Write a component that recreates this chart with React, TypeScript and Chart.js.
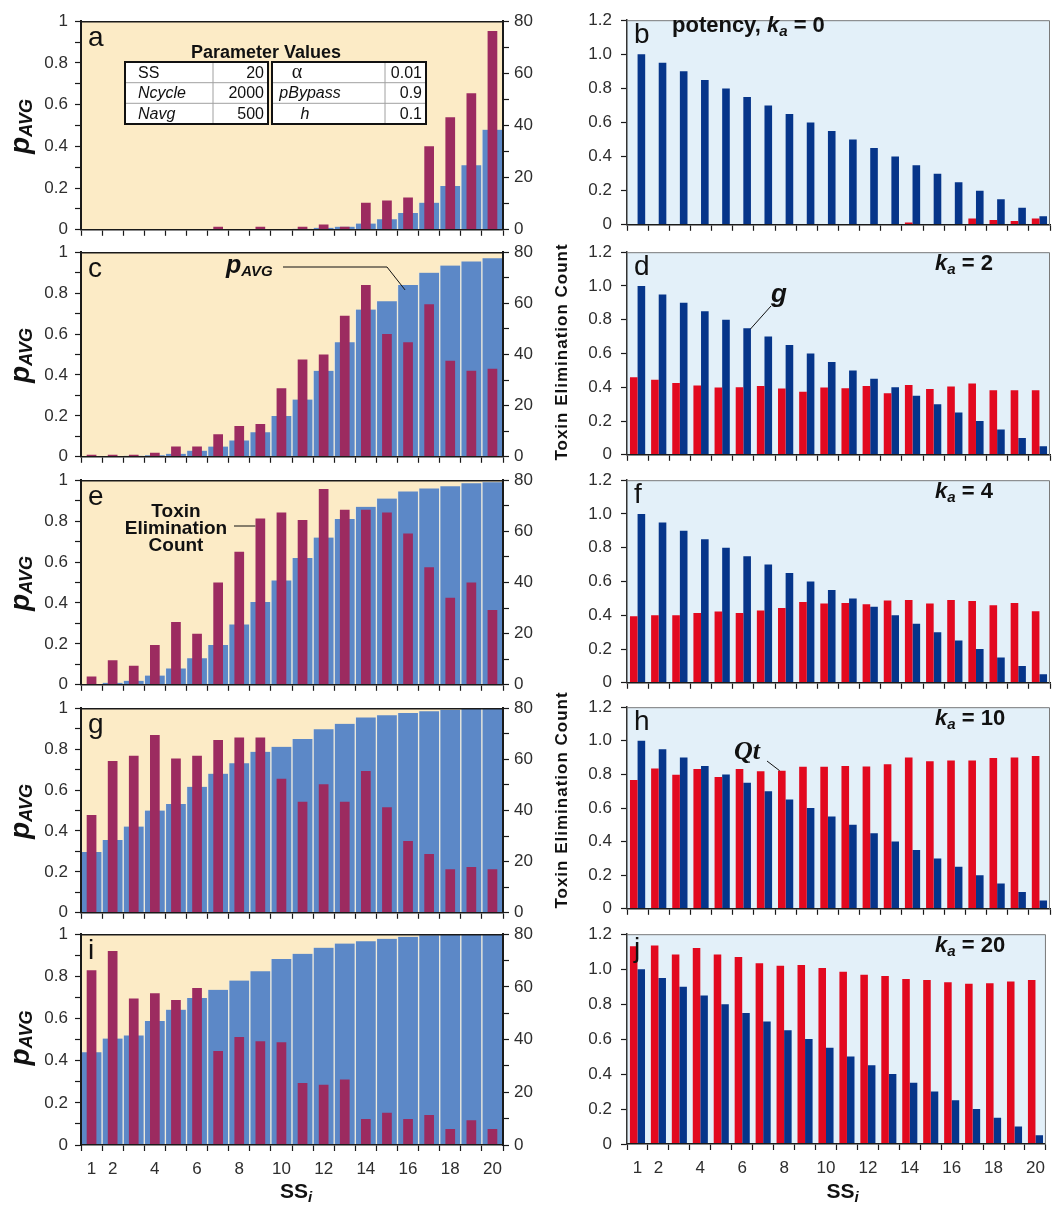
import { useEffect, useRef } from 'react';
import { Chart, registerables } from 'chart.js';

Chart.register(...registerables);

// ---------------- data ----------------
const categories = ['1', '2', '3', '4', '5', '6', '7', '8', '9', '10', '11', '12', '13', '14', '15', '16', '17', '18', '19', '20'];
const xTickLabels = ['1', '2', '', '4', '', '6', '', '8', '', '10', '', '12', '', '14', '', '16', '', '18', '', '20'];
const leftTickLabels = ['0', '0.2', '0.4', '0.6', '0.8', '1'];
const countTickLabels = ['0', '20', '40', '60', '80'];
const rightTickLabels = ['0', '0.2', '0.4', '0.6', '0.8', '1.0', '1.2'];

// left column: pAVG (left axis) and Toxin Elimination Count (right axis)
const pAvgA = [0, 0, 0, 0, 0, 0, 0, 0, 0, 0.002, 0.005, 0.01, 0.015, 0.03, 0.05, 0.08, 0.13, 0.21, 0.31, 0.48];
const countA = [0, 0, 0, 0, 0, 0, 1.2, 0, 1.2, 0, 1.2, 2, 1.2, 10.4, 11.2, 12.4, 32, 43.2, 52.4, 76.2];
const pAvgC = [0.002, 0.003, 0.005, 0.008, 0.015, 0.03, 0.05, 0.08, 0.12, 0.2, 0.28, 0.42, 0.56, 0.72, 0.76, 0.84, 0.9, 0.935, 0.955, 0.97];
const countC = [0.8, 0.8, 0.8, 1.6, 4, 4, 8.8, 12, 12.8, 26.8, 38, 40, 55.2, 67.2, 48, 44.8, 59.6, 37.6, 33.6, 34.4];
const pAvgE = [0.003, 0.01, 0.02, 0.045, 0.08, 0.13, 0.195, 0.295, 0.405, 0.51, 0.62, 0.72, 0.81, 0.87, 0.91, 0.945, 0.96, 0.97, 0.985, 0.99];
const countE = [3.2, 9.6, 7.4, 15.6, 24.6, 20, 40, 52, 65, 67.4, 64.4, 76.6, 68.4, 68.4, 67.4, 59.2, 46, 34, 40, 29.2];
const pAvgG = [0.297, 0.356, 0.422, 0.5, 0.532, 0.616, 0.68, 0.731, 0.787, 0.811, 0.85, 0.897, 0.924, 0.955, 0.966, 0.977, 0.985, 0.992, 0.996, 0.998];
const countG = [38.2, 59.4, 61.4, 69.5, 60.3, 61.4, 67.6, 68.5, 68.5, 52.4, 43.4, 50.3, 43.4, 55.4, 41.3, 28.1, 23, 17, 17.9, 17];
const pAvgI = [0.44, 0.505, 0.52, 0.588, 0.642, 0.697, 0.736, 0.78, 0.824, 0.882, 0.907, 0.936, 0.956, 0.967, 0.978, 0.988, 0.995, 0.998, 0.999, 1.0];
const countI = [66.3, 73.6, 55.6, 57.6, 55, 59.6, 35.7, 41, 39.4, 39, 23.5, 22.9, 24.9, 9.9, 12.2, 9.9, 11.4, 6.1, 9.4, 6.1];

// right column: Qt (red) and potency g (navy)
const gPotency = [1.0, 0.95, 0.9, 0.85, 0.8, 0.75, 0.7, 0.65, 0.6, 0.55, 0.5, 0.45, 0.4, 0.35, 0.3, 0.25, 0.2, 0.15, 0.1, 0.05];
const qtB = [0, 0, 0, 0, 0, 0, 0, 0, 0, 0, 0, 0, 0, 0.013, 0, 0, 0.037, 0.028, 0.022, 0.037];
const qtD = [0.46, 0.444, 0.426, 0.41, 0.398, 0.4, 0.407, 0.393, 0.374, 0.398, 0.394, 0.407, 0.365, 0.413, 0.389, 0.404, 0.422, 0.383, 0.383, 0.383];
const qtF = [0.394, 0.4, 0.4, 0.413, 0.422, 0.413, 0.428, 0.443, 0.478, 0.469, 0.473, 0.465, 0.487, 0.49, 0.47, 0.49, 0.484, 0.46, 0.473, 0.424];
const qtH = [0.767, 0.835, 0.798, 0.832, 0.785, 0.832, 0.819, 0.822, 0.845, 0.845, 0.85, 0.847, 0.86, 0.9, 0.878, 0.882, 0.882, 0.897, 0.9, 0.91];
const qtJ = [1.131, 1.136, 1.084, 1.121, 1.084, 1.069, 1.034, 1.019, 1.024, 1.006, 0.985, 0.968, 0.961, 0.944, 0.938, 0.925, 0.916, 0.92, 0.929, 0.938];
const kaValues = [0, 2, 4, 10, 20];

// parameter table (panel a)
const paramNamesLeft = ['SS', 'Ncycle', 'Navg'];
const paramValuesLeft = ['20', '2000', '500'];
const paramNamesRight = ['α', 'pBypass', 'h'];
const paramValuesRight = ['0.01', '0.9', '0.1'];

// ---------------- styling / layout ----------------
const FONT = '"Liberation Sans", Arial, Helvetica, sans-serif';
const SERIF = '"Liberation Serif", "Times New Roman", serif';
const BLUE_P = '#5C88C7';
const MAROON = '#9C2B60';
const RED = '#E2091F';
const NAVY = '#06358A';
const YELLOW_BG = '#FCEBC6';
const BLUE_BG = '#E3F0F9';
const GAP = '#EEEBDD';
const AXIS = '#1a1a1a';
const TEXT = '#111';
const TICK_TEXT = '#2e2e2e';
const TICK_SIZE = 17;

const LEFT_TOPS = [18, 249, 477, 705, 931];
const LEFT_BOTTOMS = [235, 462, 690, 918, 1145];
const RIGHT_TOPS = [15, 247, 475, 702, 929];
const RIGHT_BOTTOMS = [232, 462, 690, 916, 1144];
const PAD_TOP = 14;

type Side = 'left' | 'right';
interface Spec {
  side: Side;
  row: number;
  letter: string;
  a?: number[];
  b?: number[];
}

const specs: Spec[] = [
  { side: 'left', row: 0, letter: 'a', a: pAvgA, b: countA },
  { side: 'left', row: 1, letter: 'c', a: pAvgC, b: countC },
  { side: 'left', row: 2, letter: 'e', a: pAvgE, b: countE },
  { side: 'left', row: 3, letter: 'g', a: pAvgG, b: countG },
  { side: 'left', row: 4, letter: 'i', a: pAvgI, b: countI },
  { side: 'right', row: 0, letter: 'b', a: qtB, b: gPotency },
  { side: 'right', row: 1, letter: 'd', a: qtD, b: gPotency },
  { side: 'right', row: 2, letter: 'f', a: qtF, b: gPotency },
  { side: 'right', row: 3, letter: 'h', a: qtH, b: gPotency },
  { side: 'right', row: 4, letter: 'j', a: qtJ, b: gPotency },
];

function geom(side: Side, row: number) {
  const top = side === 'left' ? LEFT_TOPS[row] : RIGHT_TOPS[row];
  const bottom = side === 'left' ? LEFT_BOTTOMS[row] : RIGHT_BOTTOMS[row];
  const isBottom = row === 4;
  const bottomExtra = isBottom ? 1205 - bottom : 12;
  const cx = side === 'left' ? 0 : 578;
  const cw = side === 'left' ? 578 : 475;
  const cy = top - PAD_TOP;
  const ch = bottom - top + PAD_TOP + bottomExtra;
  const plotL = side === 'left' ? 81 : 627;
  const plotR = side === 'left' ? 503 : 1050;
  return { top, bottom, isBottom, bottomExtra, cx, cw, cy, ch, plotL, plotR };
}
type Geom = ReturnType<typeof geom>;

// ---------------- text helpers ----------------
type Seg = { t: string; f: string; dy?: number };
function drawSegs(ctx: CanvasRenderingContext2D, segs: Seg[], x: number, y: number, align: 'left' | 'center') {
  const widths = segs.map((s) => {
    ctx.font = s.f;
    return ctx.measureText(s.t).width;
  });
  const total = widths.reduce((p, c) => p + c, 0);
  let px = align === 'center' ? x - total / 2 : x;
  ctx.textAlign = 'left';
  ctx.textBaseline = 'alphabetic';
  segs.forEach((s, i) => {
    ctx.font = s.f;
    ctx.fillText(s.t, px, y + (s.dy || 0));
    px += widths[i];
  });
}

function line(ctx: CanvasRenderingContext2D, pts: number[][], w = 1, color = TEXT) {
  ctx.save();
  ctx.strokeStyle = color;
  ctx.lineWidth = w;
  ctx.beginPath();
  pts.forEach((p, i) => (i === 0 ? ctx.moveTo(p[0], p[1]) : ctx.lineTo(p[0], p[1])));
  ctx.stroke();
  ctx.restore();
}

function kaSegs(rest: string, size = 22): Seg[] {
  return [
    { t: 'k', f: `italic bold ${size}px ${FONT}` },
    { t: 'a', f: `italic bold ${Math.round(size * 0.7)}px ${FONT}`, dy: 4 },
    { t: rest, f: `bold ${size}px ${FONT}` },
  ];
}

function drawTable(ctx: CanvasRenderingContext2D) {
  ctx.fillStyle = TEXT;
  ctx.font = `bold 18px ${FONT}`;
  ctx.textAlign = 'center';
  ctx.textBaseline = 'alphabetic';
  ctx.fillText('Parameter Values', 266, 58);
  const rowsY = [62, 82.7, 103.3, 124];
  const t1 = { x: 125, w: 143, div: 213 };
  const t2 = { x: 272, w: 154, div: 385 };
  [t1, t2].forEach((t) => {
    ctx.fillStyle = '#ffffff';
    ctx.fillRect(t.x, rowsY[0], t.w, rowsY[3] - rowsY[0]);
    for (let r = 1; r < 3; r++) line(ctx, [[t.x, rowsY[r]], [t.x + t.w, rowsY[r]]], 1, '#a0a0a0');
    line(ctx, [[t.div, rowsY[0]], [t.div, rowsY[3]]], 1, '#a0a0a0');
    ctx.save();
    ctx.strokeStyle = '#111';
    ctx.lineWidth = 2;
    ctx.strokeRect(t.x, rowsY[0], t.w, rowsY[3] - rowsY[0]);
    ctx.restore();
  });
  ctx.fillStyle = TEXT;
  for (let r = 0; r < 3; r++) {
    const base = rowsY[r] + 15.5;
    ctx.textAlign = 'left';
    ctx.font = `${r === 0 ? '' : 'italic '}16px ${FONT}`;
    ctx.fillText(paramNamesLeft[r], 138, base);
    ctx.textAlign = 'right';
    ctx.font = `16px ${FONT}`;
    ctx.fillText(paramValuesLeft[r], 264, base);
    ctx.fillText(paramValuesRight[r], 422, base);
    ctx.textAlign = 'center';
    if (r === 0) {
      ctx.font = `20px ${SERIF}`;
      ctx.fillText(paramNamesRight[r], 297, base);
    } else {
      ctx.font = `italic 16px ${FONT}`;
      ctx.fillText(paramNamesRight[r], r === 1 ? 310 : 305, base);
    }
  }
}

function rotatedToxinTitle(ctx: CanvasRenderingContext2D, cy: number) {
  ctx.save();
  ctx.translate(560, cy);
  ctx.rotate(-Math.PI / 2);
  ctx.fillStyle = TEXT;
  ctx.font = `bold 17px ${FONT}`;
  (ctx as any).letterSpacing = '1px';
  ctx.textAlign = 'center';
  ctx.textBaseline = 'alphabetic';
  ctx.fillText('Toxin Elimination Count', 0, 7);
  ctx.restore();
}

function panelPlugin(spec: Spec, g: Geom) {
  return {
    id: 'deco_' + spec.letter,
    beforeDraw(chart: any) {
      const { ctx, chartArea: a } = chart;
      ctx.save();
      ctx.fillStyle = spec.side === 'left' ? YELLOW_BG : BLUE_BG;
      ctx.fillRect(a.left, a.top, a.right - a.left, a.bottom - a.top);
      ctx.restore();
    },
    afterDraw(chart: any) {
      const { ctx, chartArea: a } = chart;
      const xs = chart.scales.x;
      const ys = chart.scales.y;
      ctx.save();
      if (spec.side === 'left') {
        line(ctx, [[a.left, a.top + 0.5], [a.right, a.top + 0.5]], 1.5, AXIS);
      } else {
        line(ctx, [[a.left, a.top + 0.5], [a.right - 0.5, a.top + 0.5], [a.right - 0.5, a.bottom]], 1, '#7a7a7a');
      }
      // page coordinates from here
      ctx.translate(-g.cx, -g.cy);
      const px = (i: number) => xs.getPixelForValue(i) + g.cx;
      const py = (v: number) => ys.getPixelForValue(v) + g.cy;
      ctx.fillStyle = TEXT;
      ctx.font = `28px ${FONT}`;
      ctx.textAlign = 'left';
      ctx.textBaseline = 'alphabetic';
      ctx.fillText(spec.letter, g.plotL + 7, g.top + 28);

      if (spec.side === 'left') {
        // y-axis title pAVG
        ctx.save();
        ctx.translate(28, (g.top + g.bottom) / 2);
        ctx.rotate(-Math.PI / 2);
        ctx.fillStyle = TEXT;
        drawSegs(ctx, [
          { t: 'p', f: `italic bold 28px ${FONT}` },
          { t: 'AVG', f: `italic bold 18px ${FONT}`, dy: 3 },
        ], 0, 1, 'center');
        ctx.restore();

        if (spec.row === 0) drawTable(ctx);
        if (spec.row === 1) {
          ctx.fillStyle = TEXT;
          drawSegs(ctx, [
            { t: 'p', f: `italic bold 25px ${FONT}` },
            { t: 'AVG', f: `italic bold 15px ${FONT}`, dy: 3 },
          ], 226, 273, 'left');
          line(ctx, [[283, 267], [387, 267], [px(15) - 3, py(pAvgC[15]) + 5]]);
          rotatedToxinTitle(ctx, 352);
        }
        if (spec.row === 2) {
          ctx.fillStyle = TEXT;
          ctx.font = `bold 19px ${FONT}`;
          ctx.textAlign = 'center';
          ctx.fillText('Toxin', 176, 517);
          ctx.fillText('Elimination', 176, 534);
          ctx.fillText('Count', 176, 551);
          line(ctx, [[234, 526], [px(8) - 5, 526]]);
        }
        if (spec.row === 3) rotatedToxinTitle(ctx, 800);
      } else {
        if (spec.row === 0) {
          ctx.fillStyle = TEXT;
          drawSegs(ctx, [{ t: 'potency, ', f: `bold 22px ${FONT}` }, ...kaSegs(' = ' + kaValues[0], 22)], 672, g.top + 17, 'left');
        } else {
          ctx.fillStyle = TEXT;
          drawSegs(ctx, kaSegs(' = ' + kaValues[spec.row]), 935, g.top + 23, 'left');
        }
        if (spec.row === 1) {
          ctx.fillStyle = TEXT;
          ctx.font = `italic bold 26px ${FONT}`;
          ctx.textAlign = 'left';
          ctx.fillText('g', 771, 302);
          line(ctx, [[771, 306], [px(5) + 7, py(gPotency[5]) + 1]]);
        }
        if (spec.row === 3) {
          ctx.fillStyle = TEXT;
          ctx.font = `italic bold 26px ${SERIF}`;
          ctx.textAlign = 'left';
          ctx.fillText('Qt', 734, 759);
          line(ctx, [[767, 761], [px(7) - 6, py(qtH[7])]]);
        }
      }
      if (g.isBottom) {
        ctx.fillStyle = TEXT;
        drawSegs(ctx, [
          { t: 'SS', f: `bold 21px ${FONT}` },
          { t: 'i', f: `italic bold 15px ${FONT}`, dy: 4 },
        ], (g.plotL + g.plotR) / 2 + 4, 1198, 'center');
      }
      ctx.restore();
    },
  };
}

function xScaleOpts(g: Geom) {
  return {
    type: 'category',
    offset: true,
    grid: { display: true, drawOnChartArea: false, drawTicks: true, tickLength: 6, offset: true, color: AXIS, tickColor: AXIS, tickWidth: 1.2 },
    border: { display: true, color: AXIS, width: 1.5, z: 1 },
    ticks: {
      display: g.isBottom,
      autoSkip: false,
      maxRotation: 0,
      minRotation: 0,
      padding: 8,
      color: TICK_TEXT,
      font: { family: FONT, size: TICK_SIZE },
      callback: (_v: any, i: number) => xTickLabels[i],
    },
    afterFit: (s: any) => {
      s.height = g.bottomExtra;
    },
  };
}

function baseOptions(g: Geom, rightPad: number) {
  return {
    responsive: false,
    animation: false,
    devicePixelRatio: 1,
    events: [],
    layout: { padding: { top: PAD_TOP, left: 0, right: rightPad, bottom: 0 } },
    plugins: { legend: { display: false }, tooltip: { enabled: false }, title: { display: false } },
  };
}

function leftConfig(spec: Spec, g: Geom) {
  return {
    type: 'bar',
    data: {
      labels: categories,
      datasets: [
        {
          label: 'Toxin Elimination Count',
          data: spec.b,
          yAxisID: 'y1',
          backgroundColor: MAROON,
          barPercentage: 0.46,
          categoryPercentage: 1,
          grouped: false,
          order: 0,
        },
        {
          label: 'pAVG',
          data: spec.a,
          yAxisID: 'y',
          backgroundColor: BLUE_P,
          borderColor: GAP,
          borderWidth: { left: 1, right: 1, top: 0, bottom: 0 },
          barPercentage: 1,
          categoryPercentage: 1,
          grouped: false,
          order: 1,
        },
      ],
    },
    options: {
      ...baseOptions(g, 0),
      scales: {
        x: xScaleOpts(g),
        y: {
          type: 'linear',
          position: 'left',
          min: 0,
          max: 1,
          grid: { display: true, drawOnChartArea: false, drawTicks: true, tickLength: 6, color: AXIS, tickColor: AXIS, tickWidth: 1.2 },
          border: { display: true, color: AXIS, width: 2, z: 1 },
          ticks: {
            stepSize: 0.1,
            autoSkip: false,
            padding: 7,
            color: TICK_TEXT,
            font: { family: FONT, size: TICK_SIZE },
            callback: (_v: any, i: number) => (i % 2 === 0 ? leftTickLabels[i / 2] : ''),
          },
          afterFit: (s: any) => {
            s.width = g.plotL - g.cx;
          },
        },
        y1: {
          type: 'linear',
          position: 'right',
          min: 0,
          max: 80,
          grid: { display: true, drawOnChartArea: false, drawTicks: true, tickLength: 6, color: AXIS, tickColor: AXIS, tickWidth: 1.2 },
          border: { display: true, color: AXIS, width: 2, z: 1 },
          ticks: {
            stepSize: 10,
            autoSkip: false,
            padding: 5,
            color: TICK_TEXT,
            font: { family: FONT, size: TICK_SIZE },
            callback: (_v: any, i: number) => (i % 2 === 0 ? countTickLabels[i / 2] : ''),
          },
          afterFit: (s: any) => {
            s.width = g.cx + g.cw - g.plotR;
          },
        },
      },
    },
    plugins: [panelPlugin(spec, g)],
  };
}

function rightConfig(spec: Spec, g: Geom) {
  return {
    type: 'bar',
    data: {
      labels: categories,
      datasets: [
        { label: 'Qt', data: spec.a, backgroundColor: RED, categoryPercentage: 0.72, barPercentage: 1 },
        { label: 'g', data: spec.b, backgroundColor: NAVY, categoryPercentage: 0.72, barPercentage: 1 },
      ],
    },
    options: {
      ...baseOptions(g, g.cx + g.cw - g.plotR),
      scales: {
        x: xScaleOpts(g),
        y: {
          type: 'linear',
          position: 'left',
          min: 0,
          max: 1.2,
          grid: { display: true, drawOnChartArea: false, drawTicks: true, tickLength: 6, color: AXIS, tickColor: AXIS, tickWidth: 1.2 },
          border: { display: true, color: '#333', width: 1.5, z: 1 },
          ticks: {
            stepSize: 0.2,
            autoSkip: false,
            padding: 9,
            color: TICK_TEXT,
            font: { family: FONT, size: TICK_SIZE },
            callback: (_v: any, i: number) => rightTickLabels[i],
          },
          afterFit: (s: any) => {
            s.width = g.plotL - g.cx;
          },
        },
      },
    },
    plugins: [panelPlugin(spec, g)],
  };
}

function Panel({ spec }: { spec: Spec }) {
  const ref = useRef<HTMLCanvasElement | null>(null);
  const g = geom(spec.side, spec.row);
  useEffect(() => {
    if (!ref.current) return;
    const cfg = spec.side === 'left' ? leftConfig(spec, g) : rightConfig(spec, g);
    const chart = new Chart(ref.current, cfg as any);
    return () => chart.destroy();
  }, []);
  return (
    <canvas
      ref={ref}
      width={g.cw}
      height={g.ch}
      style={{ position: 'absolute', left: g.cx, top: g.cy, width: g.cw, height: g.ch, display: 'block' }}
    />
  );
}

export default function App() {
  return (
    <div style={{ position: 'absolute', left: 0, top: 0, width: 1053, height: 1205, background: '#ffffff', overflow: 'hidden' }}>
      {specs.map((s) => (
        <Panel key={s.side + s.row} spec={s} />
      ))}
    </div>
  );
}
